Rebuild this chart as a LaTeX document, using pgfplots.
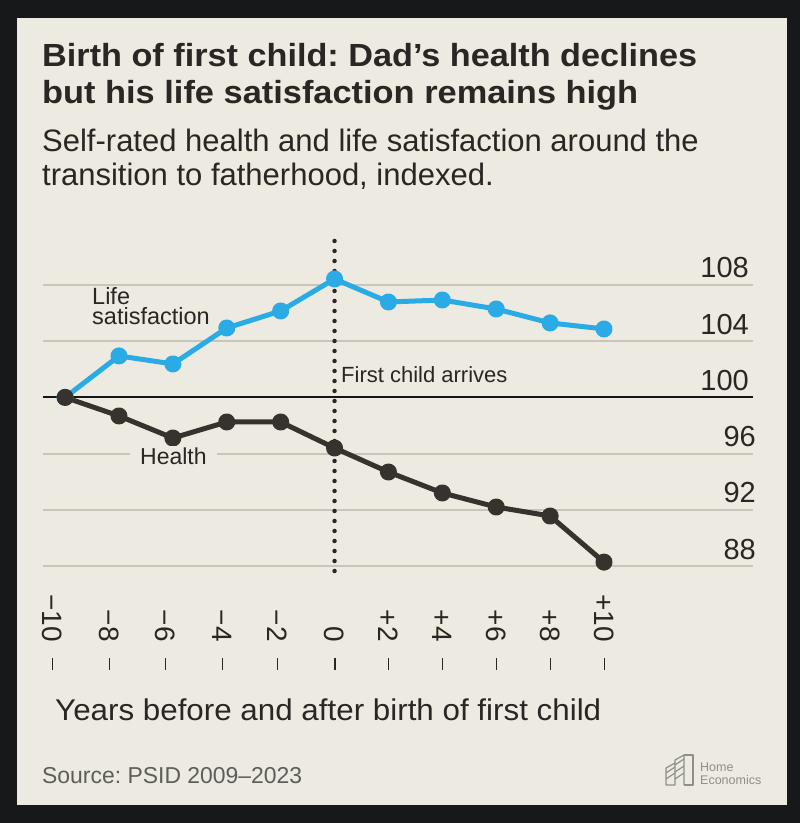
\documentclass[border=0pt]{standalone}
\usepackage{pgfplots}
\pgfplotsset{compat=1.18}
\usepackage{fontspec}
\setmainfont{Liberation Sans}
\usepackage{graphicx}
\frenchspacing
\definecolor{bg}{HTML}{ECEAE1}
\definecolor{frame}{HTML}{17181A}
\definecolor{lsblue}{HTML}{2AABE6}
\definecolor{hdark}{HTML}{37322D}
\definecolor{gridc}{HTML}{C8C5BA}
\definecolor{txt}{HTML}{2A2623}
\definecolor{srcc}{HTML}{5E5D59}
\definecolor{logoc}{HTML}{8F8E88}
\newcommand{\xt}[1]{#1\hspace{16bp}\rule[0.33em]{12bp}{1.5bp}}
\begin{document}
\begin{tikzpicture}
\fill[frame] (0bp,0bp) rectangle (800bp,823bp);
\fill[bg] (17bp,18bp) rectangle (787bp,805bp);
\begin{axis}[
  at={(43bp,246bp)}, anchor=south west,
  width=710bp, height=336bp, scale only axis,
  xmin=-10.82, xmax=15.53, ymin=87.22, ymax=111.13,
  clip=false,
  axis line style={draw=none},
  major tick length=0pt,
  xtick={-10.48,-8.37,-6.29,-4.17,-2.13,0,2,4,6,8,10},
  xticklabels={\xt{−10},\xt{−8},\xt{−6},\xt{−4},\xt{−2},\xt{0},\xt{+2},\xt{+4},\xt{+6},\xt{+8},\xt{+10}},
  xticklabel style={rotate=-90, anchor=east, inner sep=0pt, font=\fontsize{28bp}{30bp}\selectfont, text=txt},
  xticklabel shift=93bp,
  ytick={88,92,96,104,108},
  yticklabels={88\hspace*{-7bp},92\hspace*{-7bp},96\hspace*{-7bp},104,108},
  yticklabel pos=right,
  yticklabel style={anchor=base east, inner sep=0pt, xshift=-4bp, yshift=7bp, font=\fontsize{29bp}{30bp}\selectfont, text=txt},
  ymajorgrids,
  major grid style={draw=gridc, line width=2bp},
  extra y ticks={100}, extra y tick labels={100},
  extra y tick style={major grid style={draw=black!92, line width=2bp}},
]
\addplot[draw=txt, line width=4.5bp, line cap=round, dash pattern=on 0bp off 10bp] coordinates {(0,111.13) (0,87.22)};
\addplot[lsblue, line width=5bp, line join=round, mark=*, mark size=6bp, mark options={fill=lsblue, draw=none}] coordinates {
(-10,100) (-8,102.95) (-6,102.38) (-4,104.94) (-2,106.15) (0,108.43) (2,106.79) (4,106.93) (6,106.29) (8,105.30) (10,104.87)};
\addplot[hdark, line width=5bp, line join=round, mark=*, mark size=6bp, mark options={fill=hdark, draw=none}] coordinates {
(-10,100) (-8,98.68) (-6,97.11) (-4,98.25) (-2,98.25) (0,96.40) (2,94.69) (4,93.20) (6,92.20) (8,91.56) (10,88.28)};
\end{axis}
% titles
\node[anchor=base west, inner sep=0pt, text=txt] at (42bp,756bp) {\resizebox{655bp}{\height}{\fontsize{32bp}{36bp}\selectfont\bfseries Birth of first child: Dad’s health declines}};
\node[anchor=base west, inner sep=0pt, text=txt] at (42bp,719bp) {\resizebox{596bp}{\height}{\fontsize{32bp}{36bp}\selectfont\bfseries but his life satisfaction remains high}};
\node[anchor=base west, inner sep=0pt, text=txt, font=\fontsize{31bp}{34bp}\selectfont] at (42bp,671bp) {Self-rated health and life satisfaction around the};
\node[anchor=base west, inner sep=0pt, text=txt, font=\fontsize{31bp}{34bp}\selectfont] at (42bp,637bp) {transition to fatherhood, indexed.};
% in-chart labels
\node[anchor=south west, inner sep=0pt, align=left, text=txt, font=\fontsize{23.5bp}{20bp}\selectfont] at (92bp,498bp) {Life\\satisfaction};
\node[anchor=base west, inner xsep=10bp, inner ysep=2bp, fill=bg, text=txt, font=\fontsize{23bp}{24bp}\selectfont] at (130bp,358bp) {Health};
\node[anchor=base west, inner sep=0pt, text=txt, font=\fontsize{22bp}{24bp}\selectfont] at (341bp,440bp) {First child arrives};
% axis title
\node[anchor=base west, inner sep=0pt, text=txt] at (55bp,102bp) {\resizebox{546bp}{\height}{\fontsize{30bp}{32bp}\selectfont Years before and after birth of first child}};
% source
\node[anchor=base west, inner sep=0pt, text=srcc] at (42bp,39bp) {\resizebox{260bp}{\height}{\fontsize{23bp}{25bp}\selectfont Source: PSID 2009–2023}};
% logo
\begin{scope}[draw=logoc, line width=1.2bp, line join=round]
\draw (666bp,38bp) -- (666bp,55bp) -- (675bp,60bp) -- (675bp,38bp) -- cycle;
\draw (675bp,60bp) -- (675bp,63bp) -- (684bp,68bp) -- (684bp,38bp);
\draw (684bp,68bp) -- (693bp,68bp) -- (693bp,38bp) -- (684bp,38bp);
\draw (666bp,44bp) -- (675bp,50bp);
\draw (666bp,50bp) -- (675bp,56bp);
\draw (675bp,44bp) -- (684bp,50bp);
\draw (675bp,51bp) -- (684bp,57bp);
\draw (675bp,58bp) -- (684bp,64bp);
\end{scope}
\node[anchor=base west, inner sep=0pt, text=logoc, font=\fontsize{12.5bp}{14bp}\selectfont] at (700bp,51bp) {Home};
\node[anchor=base west, inner sep=0pt, text=logoc, font=\fontsize{12.5bp}{14bp}\selectfont] at (700bp,39bp) {Economics};
\end{tikzpicture}
\end{document}
